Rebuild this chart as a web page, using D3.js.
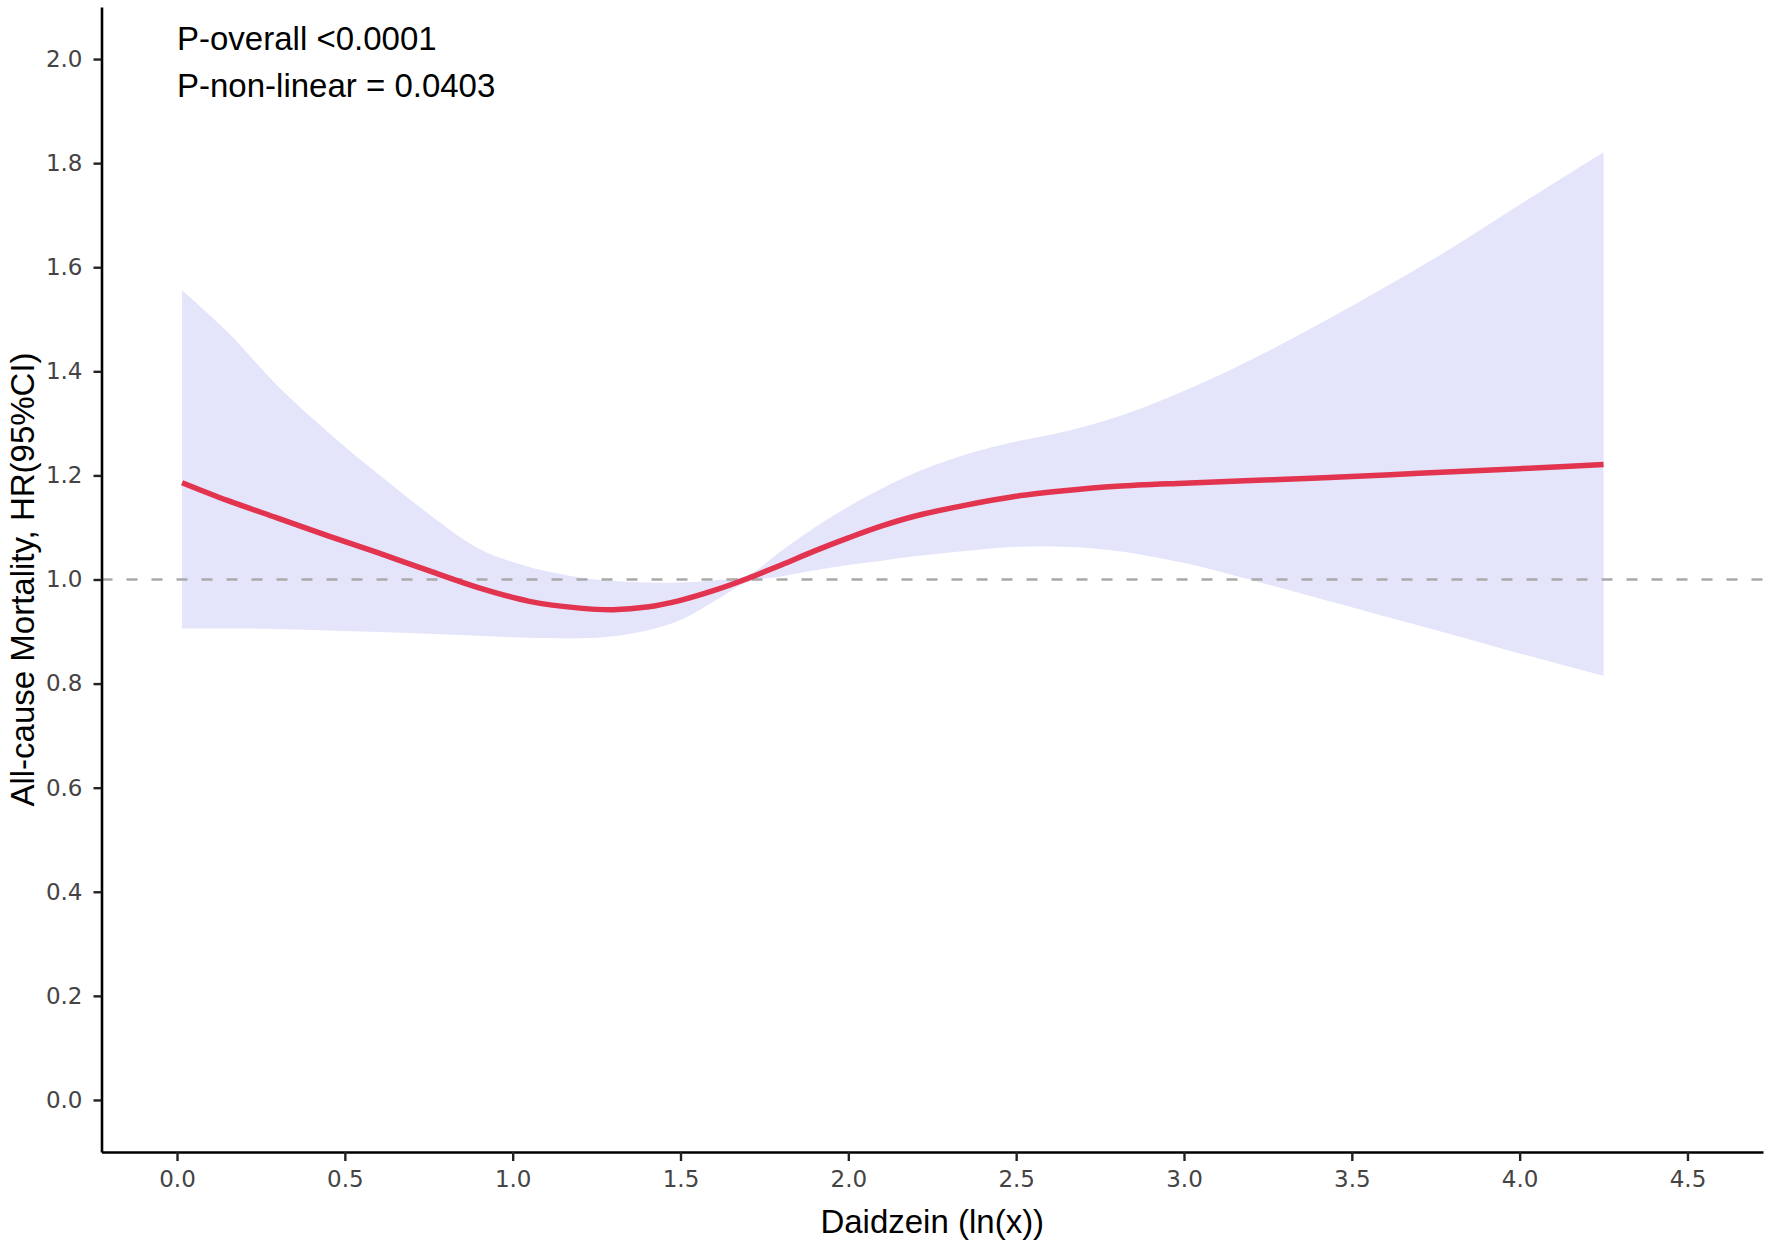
<!DOCTYPE html>
<html>
<head>
<meta charset="utf-8">
<script src="https://cdn.jsdelivr.net/npm/d3@7"></script>
<style>
  body { margin: 0; background: #fff; }
  svg { display: block; }
</style>
</head>
<body>
<div id="vizArea"></div>
<script>
// values
const xVals = [0.015, 0.15, 0.3, 0.45, 0.6, 0.75, 0.9, 1.05, 1.2, 1.3, 1.4, 1.5, 1.6, 1.7, 1.8, 1.9, 2.0, 2.1, 2.2, 2.35, 2.5, 2.65, 2.8, 3.0, 3.2, 3.4, 3.6, 3.8, 4.0, 4.25];
const hr    = [1.186, 1.152, 1.118, 1.084, 1.051, 1.017, 0.984, 0.958, 0.945, 0.942, 0.947, 0.960, 0.979, 1.002, 1.028, 1.055, 1.080, 1.103, 1.122, 1.143, 1.160, 1.171, 1.179, 1.185, 1.190, 1.195, 1.201, 1.207, 1.213, 1.221];
const upper = [1.556, 1.476, 1.372, 1.283, 1.202, 1.126, 1.059, 1.024, 1.004, 0.997, 0.994, 0.994, 0.998, 1.008, 1.055, 1.10, 1.14, 1.175, 1.205, 1.240, 1.265, 1.285, 1.312, 1.362, 1.422, 1.490, 1.562, 1.638, 1.720, 1.821];
const lower = [0.906, 0.906, 0.905, 0.902, 0.899, 0.896, 0.892, 0.888, 0.887, 0.891, 0.902, 0.922, 0.958, 0.995, 1.006, 1.018, 1.028, 1.036, 1.045, 1.055, 1.063, 1.063, 1.055, 1.032, 0.999, 0.964, 0.929, 0.894, 0.858, 0.815];

const xTicks = [0, 0.5, 1, 1.5, 2, 2.5, 3, 3.5, 4, 4.5];
const yTicks = [0, 0.2, 0.4, 0.6, 0.8, 1.0, 1.2, 1.4, 1.6, 1.8, 2.0];
const annotations = ["P-overall <0.0001", "P-non-linear = 0.0403"];
const refValue = 1.0;

const W = 1772, H = 1248;
const panel = {left: 101.5, right: 1763, top: 7, bottom: 1152};

const svg = d3.select("#vizArea")
    .append("svg")
    .attr("width", W)
    .attr("height", H);

const rows = xVals.map((x, i) => ({x: x, hr: hr[i], lo: lower[i], hi: upper[i]}));

const x = d3.scaleLinear()
    .domain([-0.225, 4.725])
    .range([panel.left, panel.right]);

const y = d3.scaleLinear()
    .domain([-0.1, 2.1])
    .range([panel.bottom, panel.top]);

// confidence band
svg.append("path")
    .datum(rows)
    .attr("fill", "#e4e4fa")
    .attr("d", d3.area()
        .curve(d3.curveCatmullRom)
        .x(d => x(d.x))
        .y0(d => y(d.lo))
        .y1(d => y(d.hi))
    );

// reference line at HR = 1
svg.append("line")
    .attr("x1", panel.left)
    .attr("x2", panel.right)
    .attr("y1", y(refValue))
    .attr("y2", y(refValue))
    .attr("stroke", "#a9a9a9")
    .attr("stroke-width", 2.4)
    .attr("stroke-dasharray", "11,14");

// fitted curve
svg.append("path")
    .datum(rows)
    .attr("fill", "none")
    .attr("stroke", "#e2334f")
    .attr("stroke-width", 5.5)
    .attr("stroke-linejoin", "round")
    .attr("d", d3.line()
        .curve(d3.curveCatmullRom)
        .x(d => x(d.x))
        .y(d => y(d.hr))
    );

// axes
const xAxis = svg.append("g")
    .attr("transform", `translate(0,${panel.bottom})`)
    .call(d3.axisBottom(x).tickValues(xTicks).tickFormat(d3.format(".1f")).tickSize(9).tickPadding(10).tickSizeOuter(0));

const yAxis = svg.append("g")
    .attr("transform", `translate(${panel.left},0)`)
    .call(d3.axisLeft(y).tickValues(yTicks).tickFormat(d3.format(".1f")).tickSize(8).tickPadding(11).tickSizeOuter(0));

[xAxis, yAxis].forEach(g => {
    g.select(".domain").attr("stroke", "#000").attr("stroke-width", 2.6);
    g.selectAll(".tick line").attr("stroke", "#222").attr("stroke-width", 2.4);
    g.selectAll(".tick text")
        .attr("fill", "#444")
        .style("font-family", "'DejaVu Sans', sans-serif")
        .style("font-size", "23px");
});

// axis titles
svg.append("text")
    .attr("x", (panel.left + panel.right) / 2)
    .attr("y", 1233)
    .attr("text-anchor", "middle")
    .style("font-family", "'Liberation Sans', Arial, sans-serif")
    .style("font-size", "33px")
    .attr("fill", "#000")
    .text("Daidzein (ln(x))");

svg.append("text")
    .attr("transform", `translate(34,${(panel.top + panel.bottom) / 2}) rotate(-90)`)
    .attr("text-anchor", "middle")
    .style("font-family", "'Liberation Sans', Arial, sans-serif")
    .style("font-size", "33px")
    .attr("fill", "#000")
    .text("All-cause Mortality, HR(95%CI)");

// p-values
svg.selectAll(".annot")
    .data(annotations)
    .join("text")
    .attr("class", "annot")
    .attr("x", x(0))
    .attr("y", (d, i) => 50 + i * 47)
    .style("font-family", "'Liberation Sans', Arial, sans-serif")
    .style("font-size", "33px")
    .attr("fill", "#000")
    .text(d => d);
</script>
</body>
</html>
